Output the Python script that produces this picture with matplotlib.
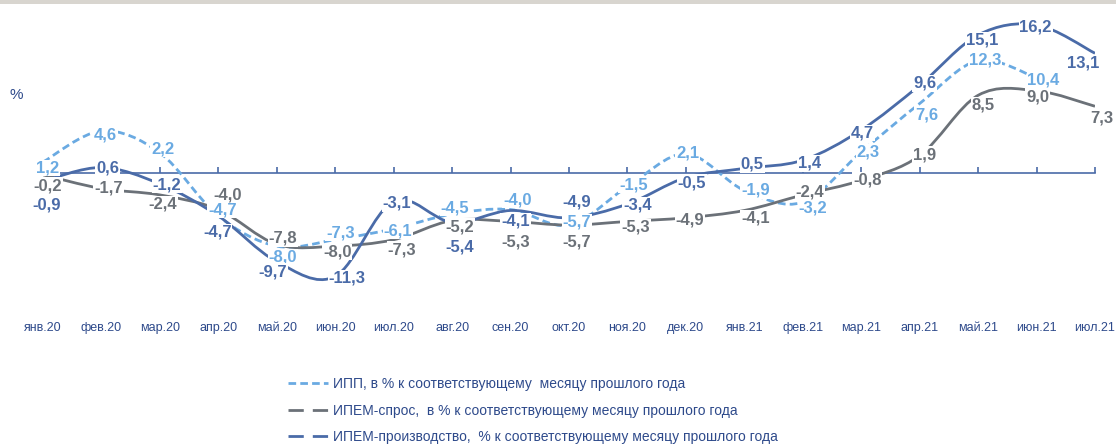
import numpy as np
import matplotlib.pyplot as plt
from matplotlib.path import Path
from matplotlib.patches import PathPatch, Rectangle
from matplotlib.lines import Line2D
from matplotlib import font_manager

plt.rcParams['lines.scale_dashes'] = False

# --- data ---
months = ['янв.20', 'фев.20', 'мар.20', 'апр.20', 'май.20', 'июн.20', 'июл.20',
          'авг.20', 'сен.20', 'окт.20', 'ноя.20', 'дек.20', 'янв.21', 'фев.21',
          'мар.21', 'апр.21', 'май.21', 'июн.21', 'июл.21']
ipp = [1.2, 4.6, 2.2, -4.7, -8.0, -7.3, -6.1, -4.5, -4.0, -5.7, -1.5, 2.1,
       -1.9, -3.2, 2.3, 7.6, 12.3, 10.4]
ipem_demand = [-0.2, -1.7, -2.4, -4.0, -7.8, -8.0, -7.3, -5.2, -5.3, -5.7, -5.3,
               -4.9, -4.1, -2.4, -0.8, 1.9, 8.5, 9.0, 7.3]
ipem_prod = [-0.9, 0.6, -1.2, -4.7, -9.7, -11.3, -3.1, -5.4, -4.1, -4.9, -3.4,
             -0.5, 0.5, 1.4, 4.7, 9.6, 15.1, 16.2, 13.1]

legend_labels = ['ИПП, в % к соответствующему  месяцу прошлого года',
                 'ИПЕМ-спрос,  в % к соответствующему месяцу прошлого года',
                 'ИПЕМ-производство,  % к соответствующему месяцу прошлого года']

# label offsets in pixels (dx right, dy down) from each point
ipp_off = [(5, 6), (4, 4), (3, -4), (4, -6), (6, 11), (5, -7), (4, 2), (3, -6),
           (7, -10), (8, -3), (6, -2), (2, -1), (11, 0), (10, 6), (7, 0), (7, 11),
           (7, -1), (7, 2)]
demand_off = [(5, 11), (7, -1), (3, 9), (9, -15), (6, -6), (2, 6), (8, 10), (8, 6),
              (5, 21), (8, 17), (8, 6), (4, 2), (11, 8), (7, -3), (6, 0), (5, -1),
              (5, 10), (1, 6), (7, 12)]
prod_off = [(4, 24), (6, 0), (7, 1), (-1, 16), (-4, 10), (12, 2), (3, 2), (8, 25),
            (5, 11), (8, -16), (10, 1), (6, 5), (8, -4), (7, 3), (1, 3), (5, -2),
            (4, 5), (-1, 2), (-12, 10)]

c_ipp = '#6AAAE2'
c_demand = '#6B7178'
c_prod = '#4A6BA8'
c_text = '#2E4A8B'

names = {f.name for f in font_manager.fontManager.ttflist}
if 'Liberation Sans Narrow' in names:
    fam = ['Liberation Sans Narrow', 'DejaVu Sans']
    lab_size, tick_size, leg_size = 13, 10, 11
else:
    fam = ['Liberation Sans', 'DejaVu Sans']
    lab_size, tick_size, leg_size = 12, 9, 10
plt.rcParams['font.family'] = fam


def smooth_path(xs, ys):
    # Excel-like smoothed line: Catmull-Rom segments as cubic Bezier curves
    pts = np.column_stack([xs, ys])
    n = len(pts)
    verts = [pts[0]]
    codes = [Path.MOVETO]
    for i in range(n - 1):
        p0 = pts[max(i - 1, 0)]
        p1 = pts[i]
        p2 = pts[i + 1]
        p3 = pts[min(i + 2, n - 1)]
        verts += [p1 + (p2 - p0) / 6, p2 - (p3 - p1) / 6, p2]
        codes += [Path.CURVE4] * 3
    return Path(verts, codes)


fig = plt.figure(figsize=(11.16, 4.45), dpi=100)
ax = fig.add_axes([43 / 1116, (445 - 300) / 445, (1095 - 43) / 1116, 290 / 445])
ax.set_xlim(0, len(months) - 1)
ax.set_ylim(-(300 - 173) / 9.14, (173 - 10) / 9.14)

series = [(ipp, c_ipp, (0, (5.5, 3)), ipp_off),
          (ipem_demand, c_demand, 'solid', demand_off),
          (ipem_prod, c_prod, 'solid', prod_off)]

for vals, col, ls, offs in series:
    x = np.arange(len(vals))
    patch = PathPatch(smooth_path(x, vals), facecolor='none', edgecolor=col,
                      lw=2.0, linestyle=ls, zorder=3, capstyle='butt')
    ax.add_patch(patch)

for vals, col, ls, offs in series:
    for i, v in enumerate(vals):
        dx, dy = offs[i]
        ax.annotate(f'{v:.1f}'.replace('.', ','), (i, v), xytext=(dx, -dy),
                    textcoords='offset pixels', ha='center', va='center',
                    fontsize=lab_size, fontweight='bold', color=col, zorder=5,
                    bbox=dict(boxstyle='square,pad=0.05', fc='white', ec='none'))

# category axis through zero with small upward ticks
for s in ['top', 'right', 'left']:
    ax.spines[s].set_visible(False)
ax.spines['bottom'].set_position(('data', 0))
ax.spines['bottom'].set_color(c_prod)
ax.spines['bottom'].set_linewidth(1.2)
ax.spines['bottom'].set_zorder(2)
ax.set_xticks(range(len(months)))
ax.tick_params(axis='x', direction='in', length=4, width=1.2, color=c_prod,
               labelbottom=False)
ax.set_yticks([])

sec = ax.secondary_xaxis('bottom')
sec.set_xticks(range(len(months)))
sec.set_xticklabels(months)
sec.tick_params(length=0, pad=16, labelsize=tick_size, labelcolor=c_text)
sec.spines['bottom'].set_visible(False)

fig.text(16 / 1116, 1 - 95 / 445, '%', color=c_text, fontsize=11,
         ha='center', va='center')

handles = [Line2D([], [], color=c_ipp, lw=2.0, linestyle=(0, (5.5, 3))),
           Line2D([], [], color=c_demand, lw=2.0, linestyle=(0, (11, 6.5))),
           Line2D([], [], color=c_prod, lw=2.0, linestyle=(0, (11, 6.5)))]
fig.legend(handles, legend_labels, loc='upper left',
           bbox_to_anchor=(288 / 1116, 1 - 377 / 445), frameon=False,
           fontsize=leg_size, labelcolor=c_text, handlelength=2.9,
           handletextpad=0.35, labelspacing=0.9, borderpad=0, borderaxespad=0)

# greyish strip along the top edge
fig.patches.append(Rectangle((0, 1 - 4 / 445), 1, 4 / 445, transform=fig.transFigure,
                             facecolor='#D8D5CF', edgecolor='none'))

fig.savefig('out.png', dpi=100)
